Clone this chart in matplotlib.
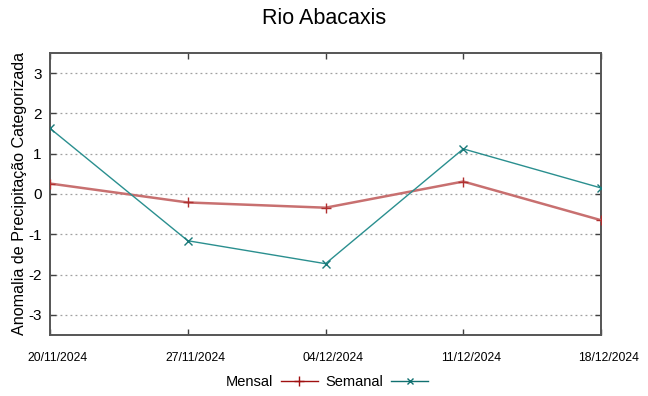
import matplotlib
matplotlib.use("Agg")
import matplotlib.pyplot as plt
import matplotlib.transforms as mtransforms
from matplotlib.lines import Line2D

dates = ["20/11/2024", "27/11/2024", "04/12/2024", "11/12/2024", "18/12/2024"]
mensal = [0.26, -0.21, -0.34, 0.31, -0.65]
semanal = [1.63, -1.16, -1.73, 1.12, 0.15]
yticks = [-3, -2, -1, 0, 1, 2, 3]

plt.rcParams['font.family'] = ['Liberation Sans', 'DejaVu Sans']

fig = plt.figure(figsize=(6.48, 3.96), dpi=100)
ax = fig.add_axes([50/648, 1-335/396, (601-50)/648, (335-53)/396])

x = list(range(len(dates)))
ax.plot(x, mensal, color='#c87070', lw=1.8, marker='+', ms=7, mec='#b03030', mew=1.0, zorder=3)
ax.plot(x, semanal, color='#2a8f8f', lw=1.0, marker='x', ms=6, mec='#1a7a7a', mew=1.0, zorder=4)

ax.set_xlim(0, 4)
ax.set_ylim(-3.5, 3.5)
ax.set_yticks(yticks)
ax.set_yticklabels([str(v) for v in yticks], fontsize=11)
ax.set_xticks(x)
ax.set_xticklabels(dates, fontsize=8.8)

ax.tick_params(direction='in', top=True, right=True, length=4, width=1, color='#404040')
ax.tick_params(axis='x', pad=12)
ax.tick_params(axis='y', pad=6)
ax.grid(axis='y', linestyle=(0, (1.5, 2.5)), color='#a0a0a0', lw=0.9)
for s in ax.spines.values():
    s.set_color('#555555')
    s.set_linewidth(1.4)

ax.set_ylabel("Anomalia de Precipitação Categorizada", fontsize=11.6, labelpad=1)
fig.suptitle("Rio Abacaxis", fontsize=15.5, y=1-18/396, va='center')

handles = [Line2D([], [], color='#a01010', lw=1.0, marker='+', ms=7),
           Line2D([], [], color='#107070', lw=1.0, marker='x', ms=5)]
fig.legend(handles, ["Mensal", "Semanal"], loc='center', bbox_to_anchor=(327/648, 1-382/396),
           ncol=2, frameon=False, markerfirst=False, fontsize=10.5, handlelength=2.55,
           columnspacing=0.55, handletextpad=0.5)

fig.canvas.draw()
offset = mtransforms.ScaledTranslation(7.5/100, 0, fig.dpi_scale_trans)
for tick in ax.xaxis.get_major_ticks():
    tick.label1.set_transform(tick.label1.get_transform() + offset)

fig.savefig("out.png", dpi=100)
